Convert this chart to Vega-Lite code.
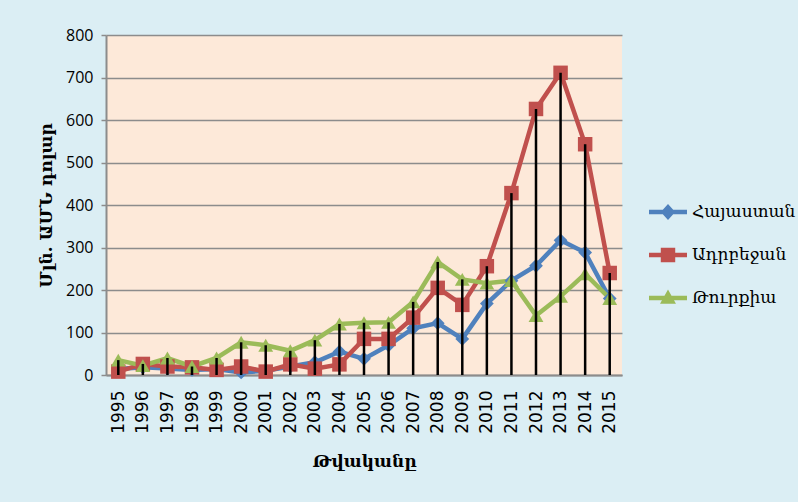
{
  "$schema": "https://vega.github.io/schema/vega-lite/v6.json",
  "width": 516,
  "height": 340,
  "autosize": {"type": "none"},
  "padding": {"left": 106, "top": 35, "right": 176, "bottom": 127},
  "background": "#DBEEF4",
  "config": {"view": {"fill": "#FDE9D9", "stroke": null}},
  "data": {"values": [
    {"year": "1995", "country": "Հայաստան", "value": 14},
    {"year": "1996", "country": "Հայաստան", "value": 18},
    {"year": "1997", "country": "Հայաստան", "value": 15},
    {"year": "1998", "country": "Հայաստան", "value": 12},
    {"year": "1999", "country": "Հայաստան", "value": 14},
    {"year": "2000", "country": "Հայաստան", "value": 6},
    {"year": "2001", "country": "Հայաստան", "value": 10},
    {"year": "2002", "country": "Հայաստան", "value": 20},
    {"year": "2003", "country": "Հայաստան", "value": 30},
    {"year": "2004", "country": "Հայաստան", "value": 55},
    {"year": "2005", "country": "Հայաստան", "value": 38},
    {"year": "2006", "country": "Հայաստան", "value": 70},
    {"year": "2007", "country": "Հայաստան", "value": 110},
    {"year": "2008", "country": "Հայաստան", "value": 122},
    {"year": "2009", "country": "Հայաստան", "value": 85},
    {"year": "2010", "country": "Հայաստան", "value": 168},
    {"year": "2011", "country": "Հայաստան", "value": 222},
    {"year": "2012", "country": "Հայաստան", "value": 257},
    {"year": "2013", "country": "Հայաստան", "value": 317},
    {"year": "2014", "country": "Հայաստան", "value": 288},
    {"year": "2015", "country": "Հայաստան", "value": 180},
    {"year": "1995", "country": "Ադրբեջան", "value": 8},
    {"year": "1996", "country": "Ադրբեջան", "value": 26},
    {"year": "1997", "country": "Ադրբեջան", "value": 20},
    {"year": "1998", "country": "Ադրբեջան", "value": 18},
    {"year": "1999", "country": "Ադրբեջան", "value": 12},
    {"year": "2000", "country": "Ադրբեջան", "value": 20},
    {"year": "2001", "country": "Ադրբեջան", "value": 8},
    {"year": "2002", "country": "Ադրբեջան", "value": 25},
    {"year": "2003", "country": "Ադրբեջան", "value": 15},
    {"year": "2004", "country": "Ադրբեջան", "value": 25},
    {"year": "2005", "country": "Ադրբեջան", "value": 85},
    {"year": "2006", "country": "Ադրբեջան", "value": 85},
    {"year": "2007", "country": "Ադրբեջան", "value": 135},
    {"year": "2008", "country": "Ադրբեջան", "value": 205},
    {"year": "2009", "country": "Ադրբեջան", "value": 165},
    {"year": "2010", "country": "Ադրբեջան", "value": 256},
    {"year": "2011", "country": "Ադրբեջան", "value": 428},
    {"year": "2012", "country": "Ադրբեջան", "value": 626},
    {"year": "2013", "country": "Ադրբեջան", "value": 711},
    {"year": "2014", "country": "Ադրբեջան", "value": 543},
    {"year": "2015", "country": "Ադրբեջան", "value": 240},
    {"year": "1995", "country": "Թուրքիա", "value": 35},
    {"year": "1996", "country": "Թուրքիա", "value": 22},
    {"year": "1997", "country": "Թուրքիա", "value": 40},
    {"year": "1998", "country": "Թուրքիա", "value": 20},
    {"year": "1999", "country": "Թուրքիա", "value": 40},
    {"year": "2000", "country": "Թուրքիա", "value": 77},
    {"year": "2001", "country": "Թուրքիա", "value": 70},
    {"year": "2002", "country": "Թուրքիա", "value": 57},
    {"year": "2003", "country": "Թուրքիա", "value": 82},
    {"year": "2004", "country": "Թուրքիա", "value": 120},
    {"year": "2005", "country": "Թուրքիա", "value": 123},
    {"year": "2006", "country": "Թուրքիա", "value": 124},
    {"year": "2007", "country": "Թուրքիա", "value": 172},
    {"year": "2008", "country": "Թուրքիա", "value": 266},
    {"year": "2009", "country": "Թուրքիա", "value": 225},
    {"year": "2010", "country": "Թուրքիա", "value": 216},
    {"year": "2011", "country": "Թուրքիա", "value": 222},
    {"year": "2012", "country": "Թուրքիա", "value": 140},
    {"year": "2013", "country": "Թուրքիա", "value": 185},
    {"year": "2014", "country": "Թուրքիա", "value": 238},
    {"year": "2015", "country": "Թուրքիա", "value": 180}
  ]},
  "encoding": {
    "x": {
      "field": "year", "type": "ordinal",
      "scale": {"type": "point", "padding": 0.5},
      "axis": {
        "title": "Թվականը",
        "titleFont": "DejaVu Serif", "titleFontSize": 17, "titleFontWeight": "bold", "titleColor": "#000000",
        "titlePadding": 20,
        "labelAngle": 270, "labelFont": "DejaVu Sans", "labelFontSize": 17, "labelColor": "#000000",
        "labelPadding": 15, "ticks": false,
        "domainColor": "#8C8C8C", "domainWidth": 2, "grid": false
      }
    },
    "y": {
      "field": "value", "type": "quantitative",
      "scale": {"domain": [0, 800], "nice": false},
      "axis": {
        "title": "Մլն. ԱՄՆ դոլար",
        "titleFont": "DejaVu Serif", "titleFontSize": 17, "titleFontWeight": "bold", "titleColor": "#000000",
        "titlePadding": 10,
        "values": [0, 100, 200, 300, 400, 500, 600, 700, 800],
        "labelFont": "Open Sans", "labelFontSize": 16, "labelColor": "#000000", "labelPadding": 8,
        "tickColor": "#8C8C8C", "tickSize": 5, "tickWidth": 1.5,
        "domainColor": "#8C8C8C", "domainWidth": 2,
        "grid": true, "gridColor": "#8C8C8C", "gridWidth": 1.5
      }
    }
  },
  "layer": [
    {
      "mark": {"type": "line", "strokeWidth": 4.5},
      "encoding": {
        "color": {
          "field": "country", "type": "nominal",
          "scale": {"domain": ["Հայաստան", "Ադրբեջան", "Թուրքիա"], "range": ["#4F81BD", "#C0504D", "#9BBB59"]},
          "legend": {
            "title": null, "orient": "none", "legendX": 543, "legendY": 158,
            "symbolSize": 1444, "labelFont": "DejaVu Serif", "labelFontSize": 17, "labelColor": "#000000",
            "labelOffset": 5, "rowPadding": 16, "labelLimit": 200,
            "encode": {"symbols": {"update": {
              "shape": {"signal": "datum.value === 'Հայաստան' ? 'M-1,-0.12H1V0.12H-1Z M0,-0.42L0.38,0L0,0.42L-0.38,0Z' : (datum.value === 'Ադրբեջան' ? 'M-1,-0.12H1V0.12H-1Z M-0.38,-0.38H0.38V0.38H-0.38Z' : 'M-1,-0.12H1V0.12H-1Z M0,-0.45L0.42,0.3H-0.42Z')"},
              "fill": {"signal": "scale('color', datum.value)"},
              "fillOpacity": {"value": 1},
              "strokeWidth": {"value": 0},
              "opacity": {"value": 1}
            }}}
          }
        }
      }
    },
    {
      "transform": [{"filter": "datum.country === 'Հայաստան'"}],
      "mark": {"type": "point", "filled": true, "opacity": 1, "shape": "diamond", "size": 190},
      "encoding": {"color": {"field": "country", "type": "nominal"}}
    },
    {
      "transform": [{"filter": "datum.country === 'Ադրբեջան'"}],
      "mark": {"type": "point", "filled": true, "opacity": 1, "shape": "square", "size": 210},
      "encoding": {"color": {"field": "country", "type": "nominal"}}
    },
    {
      "transform": [{"filter": "datum.country === 'Թուրքիա'"}],
      "mark": {"type": "point", "filled": true, "opacity": 1, "shape": "triangle-up", "size": 220},
      "encoding": {"color": {"field": "country", "type": "nominal"}}
    },
    {
      "transform": [{"aggregate": [{"op": "max", "field": "value", "as": "maxv"}], "groupby": ["year"]}],
      "mark": {"type": "rule", "color": "#000000", "strokeWidth": 2.5},
      "encoding": {
        "y": {"field": "maxv", "type": "quantitative"},
        "y2": {"datum": 0}
      }
    }
  ]
}
